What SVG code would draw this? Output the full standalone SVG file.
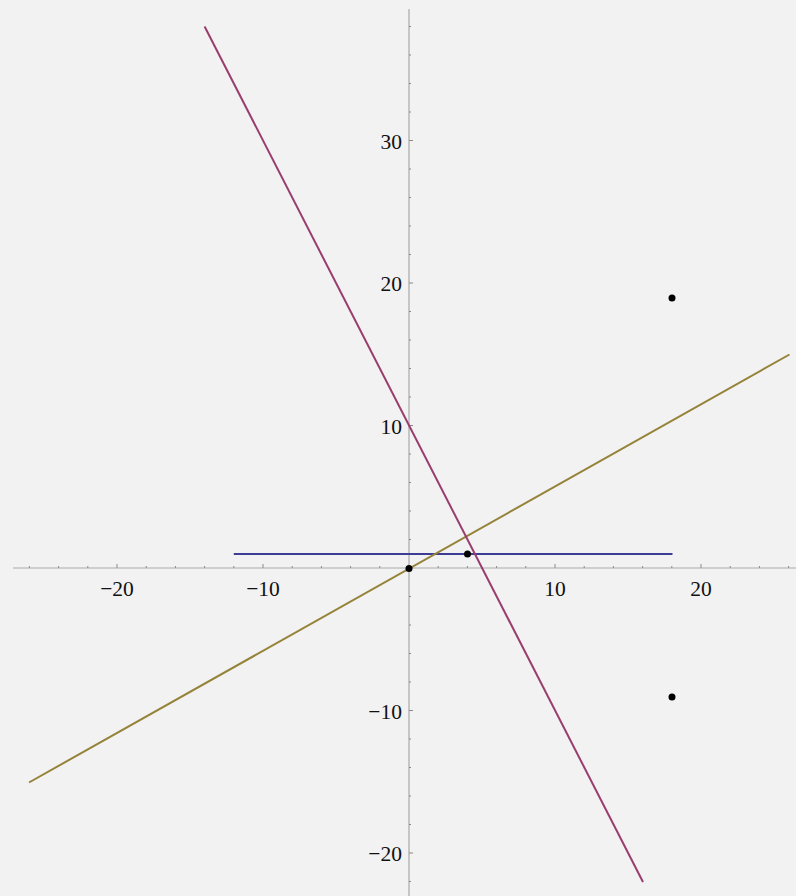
<svg xmlns="http://www.w3.org/2000/svg" width="796" height="896" viewBox="0 0 796 896">
<style>
.ax{stroke:#a9a9a9;stroke-width:1.2;fill:none}
.tk{stroke:#8a8a8a;stroke-width:1;fill:none}
.lb{font-family:"Liberation Serif",serif;font-size:21.5px;fill:#111}
.xl{text-anchor:middle}
.yl{text-anchor:end}
.ln{fill:none;stroke-width:2}
.pt{fill:#000}
</style>
<rect x="0" y="0" width="796" height="896" fill="#f2f2f2"/>
<g id="axes">
<path class="ax" d="M13 568H796M409 9V896"/>
<path class="tk" d="M29.4 568v-2M58.6 568v-2M87.8 568v-2M117 568v-4M146.2 568v-2M175.4 568v-2M204.6 568v-2M233.8 568v-2M263 568v-4M292.2 568v-2M321.4 568v-2M350.6 568v-2M379.8 568v-2M438.2 568v-2M467.4 568v-2M496.6 568v-2M525.8 568v-2M555 568v-4M584.2 568v-2M613.4 568v-2M642.6 568v-2M671.8 568v-2M701 568v-4M730.2 568v-2M759.4 568v-2M788.6 568v-2"/>
<path class="tk" d="M409 881.5h2M409 853h4M409 824.5h2M409 796h2M409 767.5h2M409 739h2M409 710.5h4M409 682h2M409 653.5h2M409 625h2M409 596.5h2M409 539.5h2M409 511h2M409 482.5h2M409 454h2M409 425.5h4M409 397h2M409 368.5h2M409 340h2M409 311.5h2M409 283h4M409 254.5h2M409 226h2M409 197.5h2M409 169h2M409 140.5h4M409 112h2M409 83.5h2M409 55h2M409 26.5h2"/>
<text class="lb xl" x="117" y="595.5">−20</text>
<text class="lb xl" x="263" y="595.5">−10</text>
<text class="lb xl" x="555" y="595.5">10</text>
<text class="lb xl" x="701" y="595.5">20</text>
<text class="lb yl" x="402" y="148.5">30</text>
<text class="lb yl" x="402" y="291">20</text>
<text class="lb yl" x="402" y="433.5">10</text>
<text class="lb yl" x="402" y="718.5">−10</text>
<text class="lb yl" x="402" y="861">−20</text>
</g>
<g id="connectors">
<line id="blue-line" class="ln" x1="233.8" y1="554" x2="672.5" y2="554" stroke="#3d3d96"/>
<line id="olive-line" class="ln" x1="29" y1="782.5" x2="789.5" y2="354.5" stroke="#958339"/>
<line id="purple-line" class="ln" x1="204.6" y1="26.5" x2="643" y2="882" stroke="#993d6e"/>
</g>
<g id="p-origin"><circle class="pt" cx="409" cy="568.5" r="3.5"/></g>
<g id="p-4-1"><circle class="pt" cx="467.5" cy="554" r="3.5"/></g>
<g id="p-18-19"><circle class="pt" cx="672" cy="298" r="3.5"/></g>
<g id="p-18-m9"><circle class="pt" cx="672" cy="697" r="3.5"/></g>
</svg>
